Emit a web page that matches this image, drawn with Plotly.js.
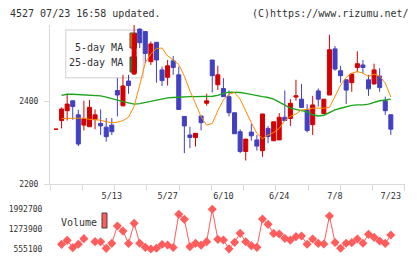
<!DOCTYPE html>
<html>
<head>
<meta charset="utf-8">
<script src="https://cdn.plot.ly/plotly-3.0.1.min.js"></script>
<style>
  html, body { margin: 0; padding: 0; background: #fff; }
  #chart { width: 420px; height: 259px; }
</style>
</head>
<body>
<div id="chart"></div>
<script>
// Trading days shown on the chart
const dates = [
  '4/24','4/25','4/26','4/30','5/1','5/2','5/7','5/8','5/9','5/10',
  '5/13','5/14','5/15','5/16','5/17','5/20','5/21','5/22','5/23','5/24',
  '5/27','5/28','5/29','5/30','5/31','6/3','6/4','6/5','6/6','6/7',
  '6/10','6/11','6/12','6/13','6/14','6/17','6/18','6/19','6/20','6/21',
  '6/24','6/25','6/26','6/27','6/28','7/1','7/2','7/3','7/4','7/5',
  '7/8','7/9','7/10','7/11','7/12','7/16','7/17','7/18','7/19','7/22',
  '7/23'
];

// Daily prices (yen)
const openP = [
  2333,2354,2378,2402,2368,2343,2339,2357,2347,2338,
  2343,2427,2390,2450,2467,2576,2570,2497,2544,2477,
  2459,2499,2465,2364,2319,2313,2365,2396,2501,2441,
  2432,2412,2373,2327,2279,2326,2307,2281,2335,2305,
  2307,2362,2359,2411,2406,2380,2344,2426,2371,2416,
  2528,2475,2453,2446,2483,2489,2453,2443,2462,2402,
  2368
];
const highP = [
  2333,2386,2419,2402,2380,2402,2404,2381,2381,2360,
  2360,2457,2465,2465,2586,2578,2570,2546,2544,2485,
  2501,2511,2485,2364,2339,2323,2365,2419,2501,2487,
  2457,2427,2373,2333,2309,2346,2319,2370,2341,2351,
  2372,2427,2406,2453,2443,2394,2414,2432,2406,2562,
  2535,2487,2453,2467,2522,2501,2465,2492,2481,2412,
  2369
];
const lowP = [
  2333,2335,2354,2356,2292,2330,2339,2333,2319,2303,
  2319,2364,2388,2419,2465,2530,2493,2489,2446,2438,
  2439,2465,2381,2275,2287,2291,2330,2390,2422,2428,
  2412,2364,2322,2275,2257,2305,2281,2266,2299,2305,
  2307,2354,2341,2402,2386,2325,2319,2388,2371,2416,
  2475,2446,2394,2424,2471,2469,2414,2441,2424,2368,
  2319
];
const closeP = [
  2333,2382,2394,2388,2297,2358,2386,2368,2341,2315,
  2327,2416,2438,2439,2564,2543,2517,2540,2501,2451,
  2487,2483,2381,2341,2313,2323,2349,2402,2463,2465,
  2412,2373,2322,2279,2309,2317,2292,2370,2315,2351,
  2362,2354,2396,2414,2386,2330,2392,2406,2406,2526,
  2479,2463,2428,2467,2492,2483,2431,2477,2434,2378,
  2333
];

// Moving averages
const ma5 = [
  null,2359,2359,2359,2360,2360,2357,2356,2355,2351,
  2349,2350,2354,2362,2389,2440,2495,2516,2529,2530,
  2511,2501,2490,2462,2426,2396,2363,2343,2347,2378,
  2404,2418,2422,2406,2376,2349,2323,2310,2319,2325,
  2335,2354,2364,2370,2380,2381,2384,2384,2384,2386,
  2412,2440,2459,2469,2473,2469,2461,2467,2462,2445,
  2411
];
const ma25 = [
  null,2415,2418,2418,2417,2416,2415,2414,2414,2411,
  2407,2403,2400,2397,2394,2395,2398,2401,2404,2407,
  2409,2410,2411,2411,2412,2412,2412,2412,2413,2415,
  2420,2423,2423,2422,2420,2417,2415,2412,2410,2406,
  2399,2391,2384,2381,2378,2375,2368,2365,2367,2373,
  2380,2384,2388,2391,2392,2392,2394,2398,2402,2404,
  2406
];

// Daily volume (shares)
const volume = [
  null,724100,868900,603400,728000,929300,null,820700,815000,579200,
  760300,1388000,1206900,755000,1484500,765000,615500,555100,580000,720000,
  700000,612000,1810500,1629400,639600,760300,695000,820700,1992700,905200,
  881000,560000,796500,1122400,818000,675800,615500,1641500,1448300,1120000,
  1098300,941400,877000,1001700,1025900,726000,917200,758000,736200,1750100,
  790000,583000,762000,784400,915000,764000,1086200,977600,844800,757000,
  1062100
];

const dateLabels = ['5/13', '5/27', '6/10', '6/24', '7/8', '7/23'];
const priceTicks = [2200, 2400];
const volumeTicks = [555100, 1273900, 1992700];

// ---- drawing ----
const W = 420, H = 259;
const ML = 50, MR = 15;
const PW = W - ML - MR;
const px = v => (v - ML) / PW;      // pixel x -> paper x
const py = v => 1 - v / H;          // pixel y -> paper y

const idx = dates.map((d, i) => i);
const labelPos = dateLabels.map(d => dates.indexOf(d));
const xRange = [-1.075, 62.54];

const MONO = 'DejaVu Sans Mono, Liberation Mono, monospace';
const RED = '#d40000', BLUE = '#4040c0';
const ORANGE = '#ff8c00', GREEN = '#1aa51a', VOL = '#ff5c5c';
const AXIS = '#d9d9d9', TEXT = '#333333';

const traces = [
  {
    type: 'scatter', mode: 'lines', x: idx, y: ma25,
    line: { color: GREEN, width: 1.4 }, xaxis: 'x', yaxis: 'y',
    hoverinfo: 'skip', showlegend: false
  },
  {
    type: 'scatter', mode: 'lines', x: idx, y: ma5,
    line: { color: ORANGE, width: 1 }, xaxis: 'x', yaxis: 'y',
    hoverinfo: 'skip', showlegend: false
  },
  {
    type: 'candlestick', x: idx,
    open: openP, high: highP, low: lowP, close: closeP,
    increasing: { line: { color: RED, width: 1 }, fillcolor: RED },
    decreasing: { line: { color: BLUE, width: 1 }, fillcolor: BLUE },
    whiskerwidth: 0, xaxis: 'x', yaxis: 'y',
    hoverinfo: 'skip', showlegend: false
  },
  {
    type: 'scatter', mode: 'lines+markers', x: idx, y: volume,
    connectgaps: false, cliponaxis: false,
    line: { color: VOL, width: 1 },
    marker: { symbol: 'diamond', size: 7, color: VOL },
    xaxis: 'x3', yaxis: 'y2', hoverinfo: 'skip', showlegend: false
  }
];

const layout = {
  width: W, height: H,
  margin: { l: ML, r: MR, t: 0, b: 0, pad: 0 },
  paper_bgcolor: '#fff', plot_bgcolor: '#fff',
  showlegend: false,
  boxgap: 0.28, boxgroupgap: 0,
  font: { family: MONO, size: 8, color: TEXT },
  xaxis: {
    domain: [0, 1], anchor: 'y', range: xRange,
    tickmode: 'linear', tick0: xRange[0], dtick: 5.783,
    ticks: 'outside', ticklen: 6, tickwidth: 1, tickcolor: AXIS,
    showticklabels: false,
    showline: true, linecolor: AXIS, linewidth: 1,
    showgrid: false, zeroline: false, fixedrange: true,
    rangeslider: { visible: false }
  },
  yaxis: {
    domain: [py(184), py(25)], anchor: 'x', range: [2200, 2586],
    tickmode: 'array', tickvals: priceTicks,
    ticks: 'outside', ticklen: 5, tickwidth: 1, tickcolor: AXIS,
    ticklabelstandoff: 4,
    tickfont: { family: MONO, size: 8, color: TEXT },
    showline: true, linecolor: AXIS, linewidth: 1,
    showgrid: false, zeroline: false, fixedrange: true
  },
  xaxis3: {
    domain: [0, 1], anchor: 'y2', side: 'top', range: xRange,
    tickmode: 'array', tickvals: labelPos, ticktext: dateLabels,
    ticks: 'outside', ticklen: 2, tickcolor: 'rgba(0,0,0,0)',
    tickfont: { family: MONO, size: 8.5, color: TEXT },
    showline: false, showgrid: false, zeroline: false, fixedrange: true
  },
  yaxis2: {
    domain: [py(253), py(205)], anchor: 'x3', range: [410250, 2148400],
    tickmode: 'array', tickvals: volumeTicks,
    ticktext: volumeTicks.map(String),
    ticks: 'outside', ticklen: 5, tickcolor: 'rgba(0,0,0,0)',
    tickfont: { family: MONO, size: 8, color: TEXT },
    showline: false, showgrid: false, zeroline: false, fixedrange: true
  },
  shapes: [
    // legend frame for the moving averages
    { type: 'rect', xref: 'paper', yref: 'paper', layer: 'below',
      x0: px(65.7), x1: px(143.3), y0: py(77.7), y1: py(30),
      fillcolor: '#ffffff', line: { color: '#dddddd', width: 1.5 } },
    { type: 'rect', xref: 'paper', yref: 'paper', layer: 'below',
      x0: px(130), x1: px(136.5), y0: py(48), y1: py(33),
      fillcolor: ORANGE, line: { color: '#444444', width: 1 } },
    { type: 'rect', xref: 'paper', yref: 'paper', layer: 'below',
      x0: px(130), x1: px(136.5), y0: py(72), y1: py(57),
      fillcolor: GREEN, line: { color: '#444444', width: 1 } },
    // volume legend swatch
    { type: 'rect', xref: 'paper', yref: 'paper',
      x0: px(102), x1: px(107), y0: py(228), y1: py(213),
      fillcolor: VOL, line: { color: '#444444', width: 1 } }
  ],
  annotations: [
    { text: '4527 07/23 16:58 updated.', xref: 'paper', yref: 'paper',
      x: px(8), y: py(13), xanchor: 'left', yanchor: 'middle', showarrow: false,
      font: { family: MONO, size: 10, color: TEXT } },
    { text: '(C)https://www.rizumu.net/', xref: 'paper', yref: 'paper',
      x: px(411), y: py(13), xanchor: 'right', yanchor: 'middle', showarrow: false,
      font: { family: MONO, size: 10, color: TEXT } },
    { text: '5-day MA', xref: 'paper', yref: 'paper',
      x: px(124.5), y: py(47.3), xanchor: 'right', yanchor: 'middle', showarrow: false,
      font: { family: MONO, size: 10, color: TEXT } },
    { text: '25-day MA', xref: 'paper', yref: 'paper',
      x: px(124.5), y: py(62.7), xanchor: 'right', yanchor: 'middle', showarrow: false,
      font: { family: MONO, size: 10, color: TEXT } },
    { text: 'Volume', xref: 'paper', yref: 'paper',
      x: px(58.5), y: py(222), xanchor: 'left', yanchor: 'middle', showarrow: false,
      font: { family: MONO, size: 10, color: TEXT } }
  ]
};

Plotly.newPlot('chart', traces, layout, { staticPlot: true, displayModeBar: false });
</script>
</body>
</html>
